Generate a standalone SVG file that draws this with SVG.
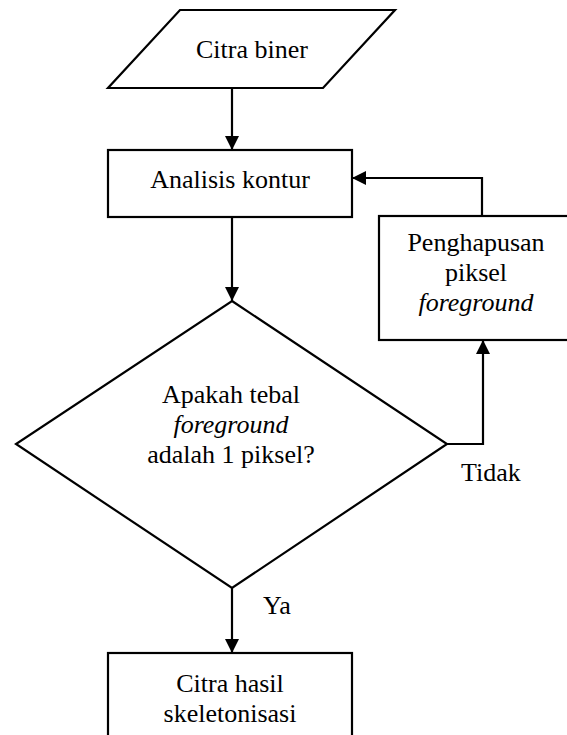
<svg xmlns="http://www.w3.org/2000/svg" width="567" height="735" viewBox="0 0 567 735">
<defs>
<style>
.s{fill:#fff;stroke:#000;stroke-width:2.2}
.c{fill:none;stroke:#000;stroke-width:2.2}
.m{text-anchor:middle}
.i{font-style:italic}
</style>
<marker id="ah" markerUnits="userSpaceOnUse" viewBox="0 0 10 10" refX="10" refY="5" markerWidth="14" markerHeight="15" orient="auto">
<path d="M0,0 L10,5 L0,10 z" fill="#000"/>
</marker>
</defs>
<rect width="567" height="735" fill="#fff"/>
<g font-family="'Liberation Serif', 'Times New Roman', 'DejaVu Serif', serif" font-size="26" fill="#000">
<g id="connectors">
<line class="c" x1="232" y1="88" x2="232" y2="150" marker-end="url(#ah)"/>
<line class="c" x1="232" y1="217" x2="232" y2="301" marker-end="url(#ah)"/>
<polyline class="c" points="482,216 482,178 352,178" marker-end="url(#ah)"/>
<polyline class="c" points="447,444 483,444 483,340" marker-end="url(#ah)"/>
<line class="c" x1="232" y1="588" x2="232" y2="653" marker-end="url(#ah)"/>
<text x="461" y="481">Tidak</text>
<text x="263" y="614">Ya</text>
</g>
<g id="n1">
<polygon class="s" points="180,10 395,10 323,88 108,88"/>
<text class="m" x="252" y="58">Citra biner</text>
</g>
<g id="n2">
<rect class="s" x="108" y="150" width="244" height="67"/>
<text class="m" x="230" y="188">Analisis kontur</text>
</g>
<g id="n3">
<rect class="s" x="379" y="216" width="194" height="124"/>
<text class="m" x="476" y="251">Penghapusan</text>
<text class="m" x="476" y="281">piksel</text>
<text class="m i" x="476" y="311">foreground</text>
</g>
<g id="n4">
<polygon class="s" points="232,301 447,444 232,588 16,444"/>
<text class="m" x="231" y="403">Apakah tebal</text>
<text class="m i" x="231" y="433">foreground</text>
<text class="m" x="231" y="463">adalah 1 piksel?</text>
</g>
<g id="n5">
<rect class="s" x="108" y="653" width="244" height="100"/>
<text class="m" x="230" y="692">Citra hasil</text>
<text class="m" x="230" y="722">skeletonisasi</text>
</g>
</g>
</svg>
